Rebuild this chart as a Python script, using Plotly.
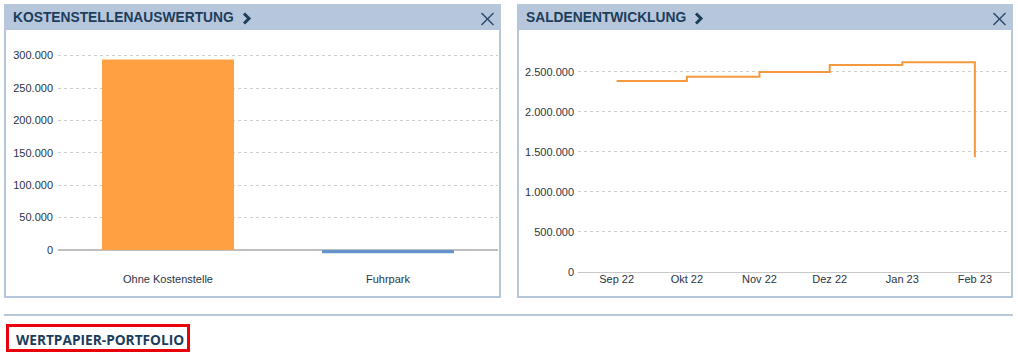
import plotly.graph_objects as go

# ---- data ----
categories = ["Ohne Kostenstelle", "Fuhrpark"]
cost_values = [294000, -5000]
bar_colors = ["#ffa043", "#6793cc"]

months = ["2022-09-01", "2022-10-01", "2022-11-01", "2022-12-01", "2023-01-01", "2023-02-01"]
month_labels = ["Sep 22", "Okt 22", "Nov 22", "Dez 22", "Jan 23", "Feb 23"]
balance = [2384000, 2437000, 2496000, 2584000, 2617000, 1430000]

W, H = 1018, 361
def px(x):
    return x / W
def py(y):
    return (H - y) / H

TICKFONT = dict(family="Liberation Sans, Arial", size=11, color="#2b3442")
HEADER_BG = "#b7c7db"
BORDER = "#b7c7db"
NAVY = "#1c3d5c"

fig = go.Figure()

fig.add_trace(go.Bar(
    x=categories, y=cost_values, marker=dict(color=bar_colors, line=dict(width=0)),
    width=0.6, xaxis="x", yaxis="y", showlegend=False, hoverinfo="x+y"))

fig.add_trace(go.Scatter(
    x=months, y=balance, mode="lines", line=dict(color="#f39a3e", width=2, shape="hv"),
    xaxis="x2", yaxis="y2", showlegend=False))

# left plot: zero at y=250, 50k per 32.4px, top y=40, bottom y=270
k1 = 50000 / 32.4
left_range = [-(270 - 250) * k1, (250 - 40) * k1]
# right plot: zero at 271.7, 500k per 40px
k2 = 500000 / 40
right_range = [0, (271.7 - 40) * k2]

grid = dict(showgrid=True, gridcolor="#cfcfcf", griddash="dot", gridwidth=1)

fig.update_layout(
    width=W, height=H, margin=dict(l=0, r=0, t=0, b=0, autoexpand=False),
    paper_bgcolor="white", plot_bgcolor="rgba(0,0,0,0)",
    separators=",.",
    bargap=0.4,
    xaxis=dict(domain=[px(58), px(498)], anchor="y", showgrid=False, showline=False, automargin=False,
               zeroline=False, tickfont=TICKFONT, ticks="", ticklabelstandoff=1,
               fixedrange=True),
    yaxis=dict(domain=[py(270), py(40)], anchor="x", range=left_range, dtick=50000, automargin=False,
               tick0=0, tickformat=",d", tickfont=TICKFONT, ticks="", ticklabelstandoff=4,
               zeroline=True, zerolinecolor="#c0c0c0", zerolinewidth=2, showline=False, **grid),
    xaxis2=dict(domain=[px(578), px(1010)], anchor="y2", type="date", automargin=False,
                range=["2022-08-15 12:00", "2023-02-16"], tickvals=months, ticktext=month_labels,
                showgrid=False, showline=True, linecolor="#c8c8c8", linewidth=1, zeroline=False,
                tickfont=TICKFONT, ticks="", ticklabelstandoff=-3),
    yaxis2=dict(domain=[py(271.7), py(40)], anchor="x2", range=right_range, dtick=500000, automargin=False,
                tick0=0, tickformat=",d", tickfont=TICKFONT, ticks="", ticklabelstandoff=3,
                zeroline=False, showline=False, **grid),
)

shapes = []
def panel(x0, x1, y0, y1, hdr_bottom):
    shapes.append(dict(type="rect", xref="paper", yref="paper", x0=px(x0), x1=px(x1),
                       y0=py(y0), y1=py(hdr_bottom), fillcolor=HEADER_BG, line=dict(width=0), layer="below"))
    shapes.append(dict(type="rect", xref="paper", yref="paper", x0=px(x0 + 1), x1=px(x1 - 1),
                       y0=py(y0 + 1), y1=py(y1 - 1), line=dict(color=BORDER, width=2), layer="below"))

def close_x(cx, cy, s=6):
    for a, b in [((cx - s, cy - s), (cx + s, cy + s)), ((cx - s, cy + s), (cx + s, cy - s))]:
        shapes.append(dict(type="line", xref="paper", yref="paper", x0=px(a[0]), y0=py(a[1]),
                           x1=px(b[0]), y1=py(b[1]), line=dict(color="#2c4c6c", width=1.5)))

def chevron(cx, cy):
    path = f"M {px(cx-3)} {py(cy-5)} L {px(cx+2)} {py(cy)} L {px(cx-3)} {py(cy+5)}"
    shapes.append(dict(type="path", xref="paper", yref="paper", path=path,
                       line=dict(color=NAVY, width=3)))

panel(4, 501, 4, 298, 30)
panel(517, 1013, 4, 298, 30)
close_x(487.5, 19)
close_x(999.5, 19)
chevron(247, 18.5)
chevron(699, 18.5)

# bottom divider and highlighted title
shapes.append(dict(type="line", xref="paper", yref="paper", x0=px(4), x1=px(1013), y0=py(315), y1=py(315),
                   line=dict(color="#b9c7d6", width=2)))
shapes.append(dict(type="rect", xref="paper", yref="paper", x0=px(7.5), x1=px(188.5), y0=py(325.5), y1=py(350.5),
                   line=dict(color="#e8000b", width=3)))

fig.update_layout(shapes=shapes)

HFONT = dict(family="Liberation Sans, Arial", size=13.8, color=NAVY)
fig.add_annotation(xref="paper", yref="paper", x=px(11), y=py(18), xanchor="left", yanchor="middle",
                   text="<b>KOSTENSTELLENAUSWERTUNG</b>", showarrow=False, font=HFONT)
fig.add_annotation(xref="paper", yref="paper", x=px(524), y=py(18), xanchor="left", yanchor="middle",
                   text="<b>SALDENENTWICKLUNG</b>", showarrow=False, font=HFONT)
fig.add_annotation(xref="paper", yref="paper", x=px(14), y=py(339), xanchor="left", yanchor="middle",
                   text="<b>WERTPAPIER-PORTFOLIO</b>", showarrow=False,
                   font=dict(family="Open Sans", size=13.7, color=NAVY))

fig.write_html(
    "out.html",
    config={"displayModeBar": False, "responsive": False},
    post_script=("document.documentElement.style.margin='0';document.documentElement.style.overflow='hidden';"
                 "document.body.style.margin='0';document.body.style.padding='0';document.body.style.overflow='hidden';"),
)
